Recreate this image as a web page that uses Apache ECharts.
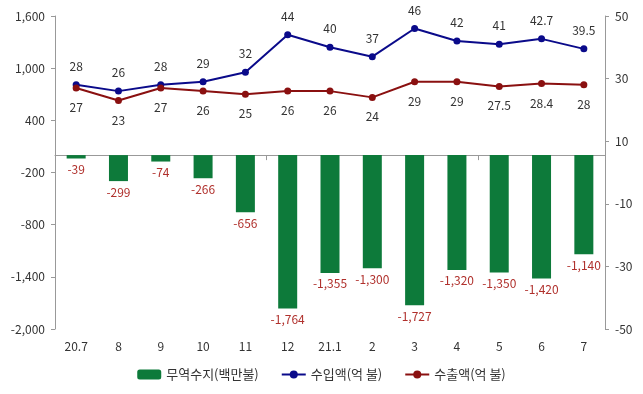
<!DOCTYPE html>
<html><head><meta charset="utf-8">
<script src="https://cdn.jsdelivr.net/npm/echarts@6/dist/echarts.min.js"></script>
<style>html,body{margin:0;padding:0;background:#fff}#c{width:643px;height:394px}</style>
</head><body><div id="c"></div>
<script>
const categories = ['20.7','8','9','10','11','12','21.1','2','3','4','5','6','7'];
const balance = [-39,-299,-74,-266,-656,-1764,-1355,-1300,-1727,-1320,-1350,-1420,-1140];
const imports = [28,26,28,29,32,44,40,37,46,42,41,42.7,39.5];
const exportsV = [27,23,27,26,25,26,26,24,29,29,27.5,28.4,28];
const names = ['무역수지(백만불)','수입액(억 불)','수출액(억 불)'];

const FONT = "'Noto Sans CJK KR', 'Noto Sans', sans-serif";
const chart = echarts.init(document.getElementById('c'));
const fmt = v => Number(v).toLocaleString('en-US');
chart.setOption({
  animation:false,
  textStyle:{fontFamily:FONT},
  grid:{left:55,right:38,top:16,bottom:65},
  legend:{bottom:8,left:'center',itemGap:22,itemWidth:24,itemHeight:10,
    textStyle:{fontFamily:FONT,fontSize:13,color:'#333'},data:names},
  xAxis:[
    {type:'category',data:categories,axisLine:{show:false,onZero:false},axisTick:{show:false},
     axisLabel:{margin:11,fontSize:12,color:'#333',fontFamily:FONT}},
    {type:'category',data:categories,position:'bottom',axisLine:{show:true,onZero:true,onZeroAxisIndex:0,lineStyle:{color:'#999'}},
     axisTick:{show:true,interval:4,length:5,inside:false,lineStyle:{color:'#999'}},axisLabel:{show:false}}
  ],
  yAxis:[
    {type:'value',min:-2000,max:1600,interval:600,splitLine:{show:false},
     axisLine:{show:true,lineStyle:{color:'#999'}},axisTick:{show:true,length:4,lineStyle:{color:'#999'}},
     axisLabel:{margin:10,fontSize:12,color:'#333',fontFamily:FONT,formatter:v=>fmt(v)}},
    {type:'value',min:-50,max:50,interval:20,splitLine:{show:false},
     axisLine:{show:true,lineStyle:{color:'#999'}},axisTick:{show:true,length:4,lineStyle:{color:'#999'}},
     axisLabel:{margin:10,fontSize:12,color:'#333',fontFamily:FONT}}
  ],
  series:[
    {name:names[0],type:'bar',data:balance,xAxisIndex:0,yAxisIndex:0,barWidth:19,
     itemStyle:{color:'#0d7a3a'},
     label:{show:true,position:'bottom',distance:5,color:'#b0302c',fontSize:12,fontFamily:FONT,formatter:p=>fmt(p.value)}},
    {name:names[1],type:'line',data:imports,xAxisIndex:0,yAxisIndex:1,symbol:'circle',symbolSize:7,
     lineStyle:{color:'#0a0a8a',width:2},itemStyle:{color:'#0a0a8a'},
     label:{show:true,position:'top',distance:9,color:'#333',fontSize:12,fontFamily:FONT}},
    {name:names[2],type:'line',data:exportsV,xAxisIndex:0,yAxisIndex:1,symbol:'circle',symbolSize:7,
     lineStyle:{color:'#8a1010',width:2},itemStyle:{color:'#8a1010'},
     label:{show:true,position:'bottom',distance:10,color:'#333',fontSize:12,fontFamily:FONT}}
  ]
});
</script></body></html>
